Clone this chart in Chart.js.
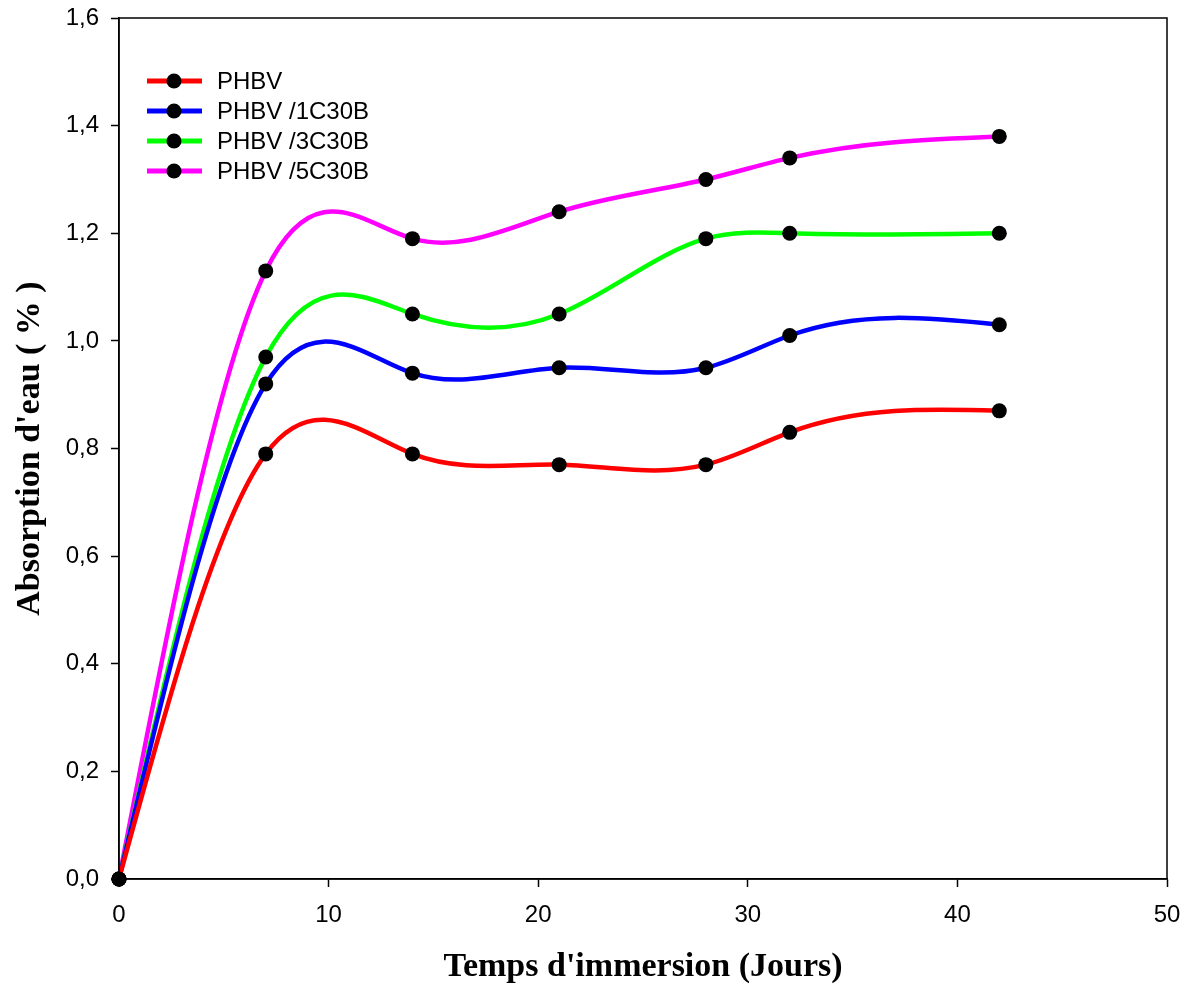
<!DOCTYPE html>
<html>
<head>
<meta charset="utf-8">
<script src="https://cdn.jsdelivr.net/npm/chart.js@4/dist/chart.umd.min.js"></script>
<style>
html,body{margin:0;padding:0;background:#fff;}
#wrap{width:1188px;height:987px;}
</style>
</head>
<body>
<div id="wrap"><canvas id="c" width="1188" height="987"></canvas></div>
<script>
const days = [0, 7, 14, 21, 28, 32, 42];
const phbv = [0, 0.79, 0.79, 0.77, 0.77, 0.83, 0.87];
const phbv1C30B = [0, 0.92, 0.94, 0.95, 0.95, 1.01, 1.03];
const phbv3C30B = [0, 0.97, 1.05, 1.05, 1.19, 1.20, 1.20];
const phbv5C30B = [0, 1.13, 1.19, 1.24, 1.30, 1.34, 1.38];
const seriesLabels = ['PHBV', 'PHBV /1C30B', 'PHBV /3C30B', 'PHBV /5C30B'];
const seriesColors = ['#ff0000', '#0000ff', '#00ff00', '#ff00ff'];
const xTitle = "Temps d'immersion (Jours)";
const yTitle = "Absorption d'eau ( % )";

const allSeries = [phbv, phbv1C30B, phbv3C30B, phbv5C30B];
const datasets = allSeries.map((vals, i) => ({
  label: seriesLabels[i],
  data: days.map((d, j) => ({x: d, y: vals[j]})),
  borderColor: seriesColors[i],
  borderWidth: 4.5,
  tension: 0.4,
  pointRadius: 7.5,
  pointBackgroundColor: '#000',
  pointBorderColor: '#000',
  pointBorderWidth: 0,
  clip: false
}));

// Natural cubic spline control points (computed on the pixel positions given by Chart.js scales)
const naturalSpline = {
  id: 'naturalSpline',
  beforeDatasetDraw(chart, args) {
    const meta = args.meta;
    const line = meta.dataset;
    if (!line) return;
    line.updateControlPoints(chart.chartArea, 'x');
    const pts = meta.data;
    const n = pts.length - 1;
    if (n < 2) return;
    const X = pts.map(p => p.x), Y = pts.map(p => p.y);
    const h = [];
    for (let i = 0; i < n; i++) h.push(X[i + 1] - X[i]);
    const M = new Array(n + 1).fill(0);
    const a = [], b = [], c = [], d = [];
    for (let i = 1; i < n; i++) {
      a.push(h[i - 1]);
      b.push(2 * (h[i - 1] + h[i]));
      c.push(h[i]);
      d.push(6 * ((Y[i + 1] - Y[i]) / h[i] - (Y[i] - Y[i - 1]) / h[i - 1]));
    }
    const m = b.length;
    for (let i = 1; i < m; i++) {
      const w = a[i] / b[i - 1];
      b[i] -= w * c[i - 1];
      d[i] -= w * d[i - 1];
    }
    const sol = new Array(m);
    sol[m - 1] = d[m - 1] / b[m - 1];
    for (let i = m - 2; i >= 0; i--) sol[i] = (d[i] - c[i] * sol[i + 1]) / b[i];
    for (let i = 1; i < n; i++) M[i] = sol[i - 1];
    const slope = [];
    for (let i = 0; i < n; i++) slope.push((Y[i + 1] - Y[i]) / h[i] - h[i] * (2 * M[i] + M[i + 1]) / 6);
    slope.push((Y[n] - Y[n - 1]) / h[n - 1] + h[n - 1] * (M[n - 1] + 2 * M[n]) / 6);
    for (let i = 0; i <= n; i++) {
      const p = pts[i];
      const hp = i > 0 ? h[i - 1] : 0;
      const hn = i < n ? h[i] : 0;
      p.cp1x = X[i] - hp / 3; p.cp1y = Y[i] - slope[i] * hp / 3;
      p.cp2x = X[i] + hn / 3; p.cp2y = Y[i] + slope[i] * hn / 3;
    }
  }
};

const decor = {
  id: 'decor',
  afterDatasetsDraw(chart) {
    const ctx = chart.ctx;
    const a = chart.chartArea;
    ctx.save();
    ctx.strokeStyle = '#000';
    ctx.lineWidth = 1.5;
    ctx.strokeRect(a.left, a.top, a.right - a.left, a.bottom - a.top);
    ctx.fillStyle = '#000';
    ctx.font = 'bold 34px "Liberation Serif", "Times New Roman", serif';
    ctx.textAlign = 'center';
    ctx.textBaseline = 'middle';
    ctx.fillText(xTitle, (a.left + a.right) / 2, 967);
    ctx.save();
    ctx.translate(30, (a.top + a.bottom) / 2);
    ctx.rotate(-Math.PI / 2);
    ctx.fillText(yTitle, 0, 0);
    ctx.restore();
    ctx.font = '24px "Liberation Sans", Arial, sans-serif';
    ctx.textAlign = 'left';
    chart.data.datasets.forEach((ds, i) => {
      const y = 81 + i * 30;
      ctx.strokeStyle = ds.borderColor;
      ctx.lineWidth = 5;
      ctx.beginPath();
      ctx.moveTo(147, y);
      ctx.lineTo(202, y);
      ctx.stroke();
      ctx.fillStyle = '#000';
      ctx.beginPath();
      ctx.arc(174, y, 7.5, 0, Math.PI * 2);
      ctx.fill();
      ctx.fillText(ds.label, 217, y + 1);
    });
    ctx.restore();
  }
};

new Chart(document.getElementById('c'), {
  type: 'line',
  data: {datasets},
  options: {
    responsive: false,
    animation: false,
    devicePixelRatio: 1,
    layout: {padding: {top: 18, right: 21, left: 0, bottom: 0}},
    plugins: {legend: {display: false}, tooltip: {enabled: false}},
    scales: {
      x: {
        type: 'linear', min: 0, max: 50,
        afterFit(s) { s.height = 108; s.paddingLeft = 0; s.paddingRight = 0; },
        ticks: {stepSize: 10, color: '#000', padding: 14,
          font: {family: '"Liberation Sans", Arial, sans-serif', size: 24}},
        grid: {drawOnChartArea: false, tickLength: 8, color: '#000', tickWidth: 1.5},
        border: {color: '#000', width: 1.5}
      },
      y: {
        type: 'linear', min: 0, max: 1.6,
        afterFit(s) { s.width = 119; s.paddingTop = 0; s.paddingBottom = 0; },
        ticks: {stepSize: 0.2, color: '#000', padding: 12,
          font: {family: '"Liberation Sans", Arial, sans-serif', size: 24},
          callback: v => v.toFixed(1).replace('.', ',')},
        grid: {drawOnChartArea: false, tickLength: 8, color: '#000', tickWidth: 1.5},
        border: {color: '#000', width: 1.5}
      }
    }
  },
  plugins: [naturalSpline, decor]
});
</script>
</body>
</html>
